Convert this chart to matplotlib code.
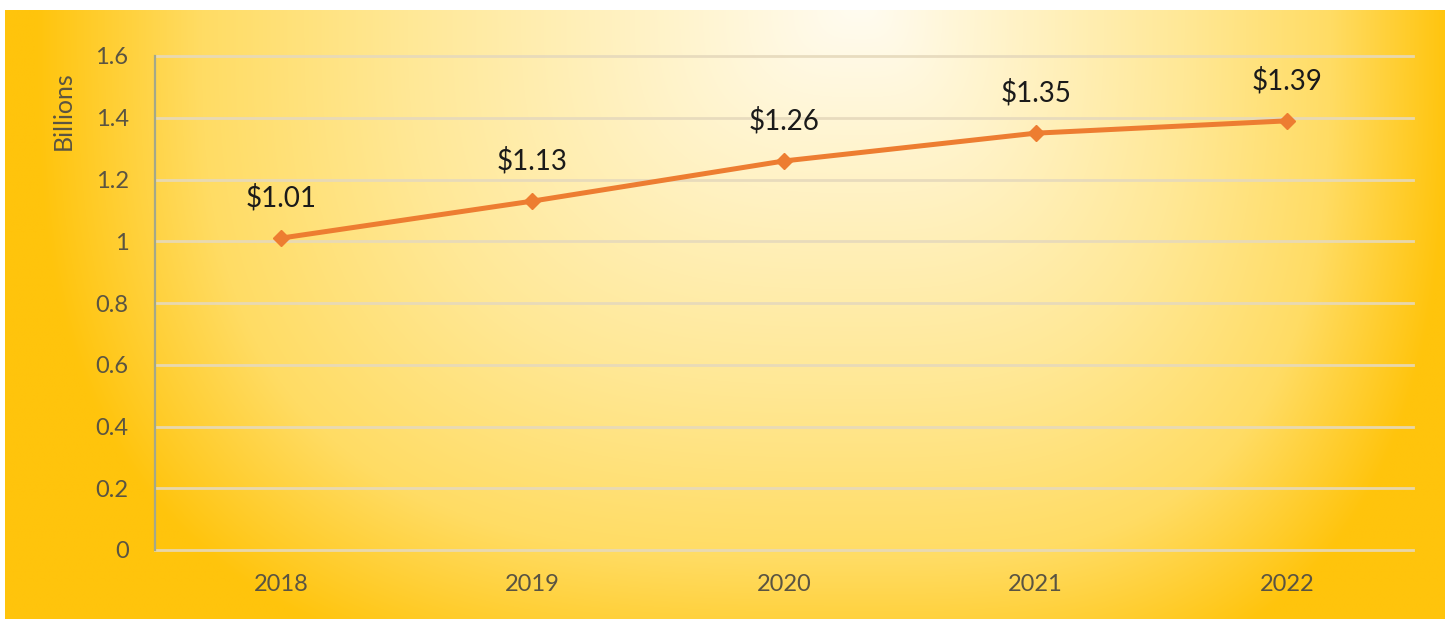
import numpy as np
import matplotlib
matplotlib.use('Agg')
import matplotlib.pyplot as plt

plt.rcParams['font.family'] = ['Lato', 'DejaVu Sans']

# 연도별 매출 (단위: 십억 달러)
years = ['2018', '2019', '2020', '2021', '2022']
revenue = [1.01, 1.13, 1.26, 1.35, 1.39]
value_labels = ['$1.01', '$1.13', '$1.26', '$1.35', '$1.39']
y_ticks = [0, 0.2, 0.4, 0.6, 0.8, 1, 1.2, 1.4, 1.6]
y_tick_labels = ['0', '0.2', '0.4', '0.6', '0.8', '1', '1.2', '1.4', '1.6']

W, H = 1445, 619
fig = plt.figure(figsize=(W / 100, H / 100), dpi=100)
fig.patch.set_facecolor('white')

# 배경: 위쪽 중앙이 밝고 가장자리로 갈수록 진한 금색
bg = fig.add_axes([5 / W, 0, 1 - 5 / W, 1 - 10 / H])
bg.axis('off')
gx, gy = np.meshgrid(np.linspace(0, W, 600), np.linspace(0, H - 10, 260))
cx = 860
dx = np.where(gx < cx, (cx - gx) / 830, (gx - cx) / 590)
dy = np.abs(gy + 10) / 700
d = (dx ** 3 + dy ** 3) ** (1 / 3)
stops = [0, 0.55, 0.8, 1.0]
r = np.interp(d, stops, [255, 255, 255, 255])
g = np.interp(d, stops, [252, 232, 220, 196])
b = np.interp(d, stops, [242, 150, 100, 12])
img = np.dstack([r, g, b]) / 255
bg.imshow(img, aspect='auto', extent=[0, 1, 0, 1], origin='upper', interpolation='bilinear')

ax = fig.add_axes([155 / W, 1 - 550 / H, (1413 - 155) / W, (550 - 56) / H])
ax.patch.set_alpha(0)

x = np.arange(len(years))
ax.plot(x, revenue, color='#ED7D31', linewidth=3.6, marker='D', markersize=8, zorder=3)
for xi, val, lab in zip(x, revenue, value_labels):
    ax.annotate(lab, (xi, val), xytext=(0, 29), textcoords='offset points',
                ha='center', va='center', fontsize=20, color='#1a1a1a')

ax.set_xlim(-0.5, len(years) - 0.5)
ax.set_ylim(0, 1.6)
ax.set_yticks(y_ticks)
ax.set_yticklabels(y_tick_labels)
ax.set_xticks(x)
ax.set_xticklabels(years)
ax.tick_params(axis='both', length=0, labelsize=17, colors='#5a5442')
ax.tick_params(axis='y', pad=19)
ax.tick_params(axis='x', pad=17)
ax.set_ylabel('Billions', fontsize=18, color='#5a5442')
ax.yaxis.set_label_coords(-0.064, 0.89)

ax.grid(axis='y', color='#e6d9bc', alpha=0.9, linewidth=2, clip_on=False)
ax.set_axisbelow(True)
for side in ['top', 'right', 'bottom']:
    ax.spines[side].set_visible(False)
ax.spines['left'].set_color('#a3a88a')
ax.spines['left'].set_linewidth(1.6)

fig.savefig('out.png', dpi=100)
